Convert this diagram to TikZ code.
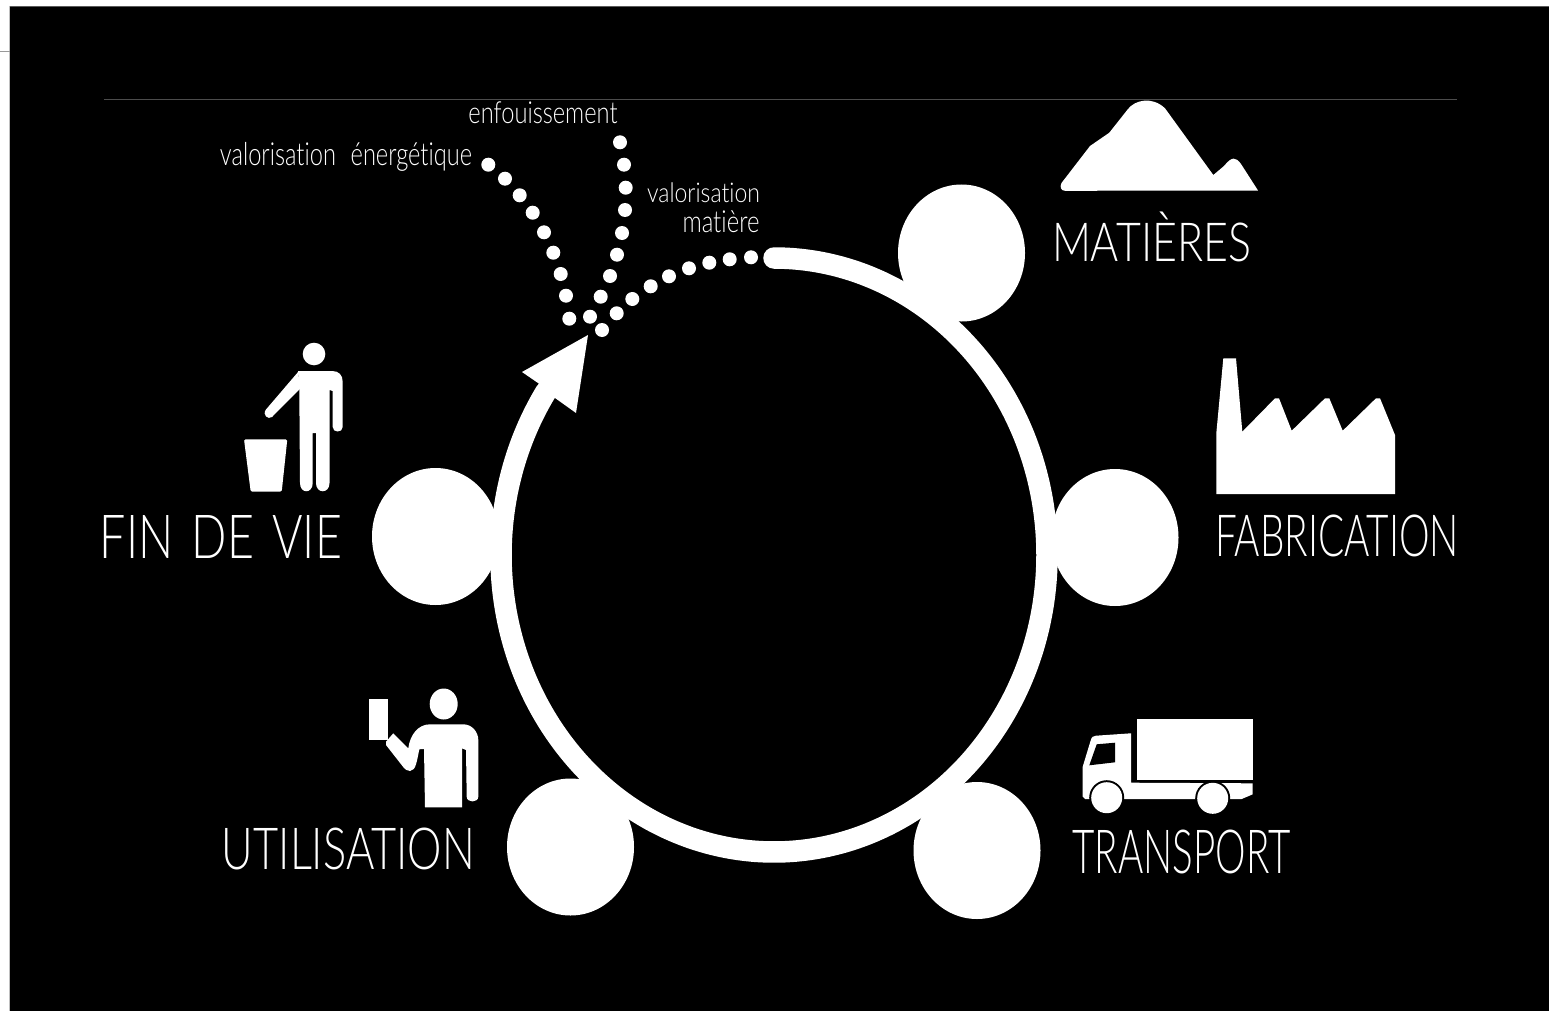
\documentclass[tikz,border=0pt]{standalone}
\usepackage{fontspec}
\usepackage{graphicx}
\newfontfamily\handf[Ligatures=NoCommon]{Lato Light}
\newcommand{\handtxt}[3]{\resizebox*{#1pt}{#2pt}{\handf #3}}
\tikzset{
  px/.style={x=1pt,y=-1pt},
  blob/.style={draw=none,fill=white,ellipse,inner sep=0pt,minimum width=127pt,minimum height=137pt},
  dotmark/.style={draw=none,fill=white,circle,inner sep=0pt,minimum size=14pt},
  lbl/.style={text=white,inner sep=0pt,anchor=center},
  shapefill/.style={fill=white,draw=none},
  edgeline/.style={draw=#1,line width=1pt},
  ring/.style={draw=white,line width=21.5pt,line cap=round,line join=round}
}
\usetikzlibrary{shapes.geometric}
\begin{document}
\begin{tikzpicture}[px]
\useasboundingbox (0,0) rectangle (1549,1011);
\fill[white] (0,0) rectangle (1549,1011);
\fill[black] (10,6) rectangle (1549,1011);
\draw[edgeline=black!65] (10,6.2) -- (1549,6.2);
\draw[edgeline=black!25] (9.7,6) -- (9.7,1011);
\draw[edgeline=black!40] (0,51.5) -- (10,51.5);
\draw[edgeline=black!70] (104,99.2) -- (1457,99.2);
% stage blobs
\node[blob] (matieres) at (961.5,253) {};
\node[blob] (fabrication) at (1115,537.5) {};
\node[blob] (transport) at (977,850.5) {};
\node[blob] (utilisation) at (570.5,847) {};
\node[blob] (findevie) at (435.5,536.5) {};
% ring
\draw[ring] plot[domain=90:-213.4,samples=240,smooth] ({774+273*cos(\x)},{555-297*sin(\x)});
\fill[white] (588,335) -- (522,372) -- (538,383) -- (555,398) -- (576,413) -- cycle;
% dots
\foreach \p [count=\i] in {(488.3,164.7),(505,178.7),(519.7,195.3),(532.7,212.7),(544,232.3),(553.3,252.7),(560.7,274),(566,295.7),(569.3,318.7)}
  \node[dotmark] (ve\i) at \p {};
\foreach \p [count=\i] in {(620,142.3),(624,164.7),(625.7,187.7),(625,210),(622,233),(617,254.7),(610,276),(600.7,296.7),(590,316.7)}
  \node[dotmark] (en\i) at \p {};
\foreach \p [count=\i] in {(751,257.3),(729.7,259.3),(709.3,262.7),(689,268.3),(669,276.3),(650.7,286.3),(632.3,299),(616.7,313.3),(602,330)}
  \node[dotmark] (vm\i) at \p {};
% mountain
\fill[shapefill] (1061.5,183) -- (1090,146) -- (1109.3,132.7) -- (1128,109) .. controls (1135,100) and (1152,96) .. (1165,108.3) -- (1213.3,175) -- (1224,166) .. controls (1232,156) and (1236,157) .. (1241,164) -- (1258,190.5) -- (1065,190.8) .. controls (1061,190.8) and (1059.5,187) .. (1061.5,183) -- cycle;
% factory
\fill[shapefill] (1216.3,494) -- (1216.3,433.3) -- (1223.3,358.3) -- (1236,358.3) -- (1242.3,431.7) -- (1275,398.3) -- (1279,398.3) -- (1291.7,430.7) -- (1325,398.3) -- (1329.3,398.3) -- (1342.7,430.7) -- (1376,398.3) -- (1380,398.3) -- (1395,435) -- (1395,494) -- cycle;
% truck
\fill[shapefill] (1137,718.7) rectangle (1252.7,780.3);
\fill[shapefill] (1082.7,766.7) -- (1090.5,741) .. controls (1091.5,737) and (1093,735.8) .. (1096,735.7) -- (1131,733.3) -- (1131,782.7) -- (1252.7,783.3) -- (1252.7,794.3) -- (1241.7,799) -- (1085,799) -- (1082.7,796.7) -- cycle;
\fill[black] (1096.7,744.3) -- (1115,742.7) -- (1115,762.3) -- (1089.3,765.3) -- cycle;
\fill[black] (1106.7,797.7) circle[radius=17.5pt];
\fill[black] (1212.7,798.3) circle[radius=17.5pt];
\fill[white] (1106.7,797.7) circle[radius=15.5pt];
\fill[white] (1212.7,798.3) circle[radius=15.5pt];
% person at the bin
\fill[shapefill] (314,354) circle[radius=11.3pt];
\fill[shapefill,rounded corners=1.5pt] (244,439.3) -- (287.3,439.3) -- (281.7,491.7) -- (250.7,491.7) -- cycle;
\fill[shapefill] (298,371) -- (332,371) .. controls (339,371) and (342.7,375) .. (342.7,382) -- (342.7,427) .. controls (342.7,433) and (332.7,433) .. (332.7,427) -- (332.7,391) -- (329.5,390) -- (329.5,483) .. controls (329.5,494) and (316,494) .. (316,483) -- (316,433) -- (312.7,433) -- (312.7,483) .. controls (312.7,494) and (300,494) .. (300,483) -- (299.3,390) -- cycle;
\fill[shapefill] (298.5,371.5) -- (266,409.5) .. controls (262,415) and (268,420) .. (272,417) -- (299.3,389.5) -- cycle;
% person with card
\fill[shapefill] (443.7,704) ellipse[x radius=14pt,y radius=15.5pt];
\fill[shapefill] (369,698.7) rectangle (388.3,740);
\fill[shapefill] (386,741.7) -- (393.3,733.3) -- (408.3,748.3) .. controls (410,735) and (418,724.3) .. (430,724.3) -- (463.3,724.3) .. controls (472,724.3) and (478.3,732) .. (478.3,740) -- (478.3,796.7) .. controls (478.3,803) and (466.7,803) .. (466.7,796.7) -- (466,750) -- (462,748.3) -- (462,807.3) -- (425,807.3) -- (424,749) -- (419.3,749.3) .. controls (417,760) and (416,771) .. (410,771) .. controls (407,771) and (405,769) .. (404,768) -- (386,745) -- cycle;
% labels
\node[lbl] (lmat) at (1151.5,237) {\handtxt{199}{50}{MATIÈRES}};
\node[lbl] (lfab) at (1337,536) {\handtxt{244}{42}{FABRICATION}};
\node[lbl] (lfin) at (221,536.5) {\handtxt{242}{43}{FIN\hspace{0.12em} DE\hspace{0.12em} VIE}};
\node[lbl] (luti) at (348.5,849) {\handtxt{253}{42}{UTILISATION}};
\node[lbl] (ltra) at (1181.5,852) {\handtxt{218}{44}{TRANSPORT}};
\node[lbl] (lenf) at (543,112.5) {\handtxt{149}{22}{enfouissement}};
\node[lbl] (lve) at (346,157) {\handtxt{252}{29}{valorisation\hspace{0.35em} énergétique}};
\node[lbl] (lvm) at (703.5,192.5) {\handtxt{113}{20}{valorisation}};
\node[lbl] (lvm2) at (721,222) {\handtxt{77}{22}{matière}};
\end{tikzpicture}
\end{document}
